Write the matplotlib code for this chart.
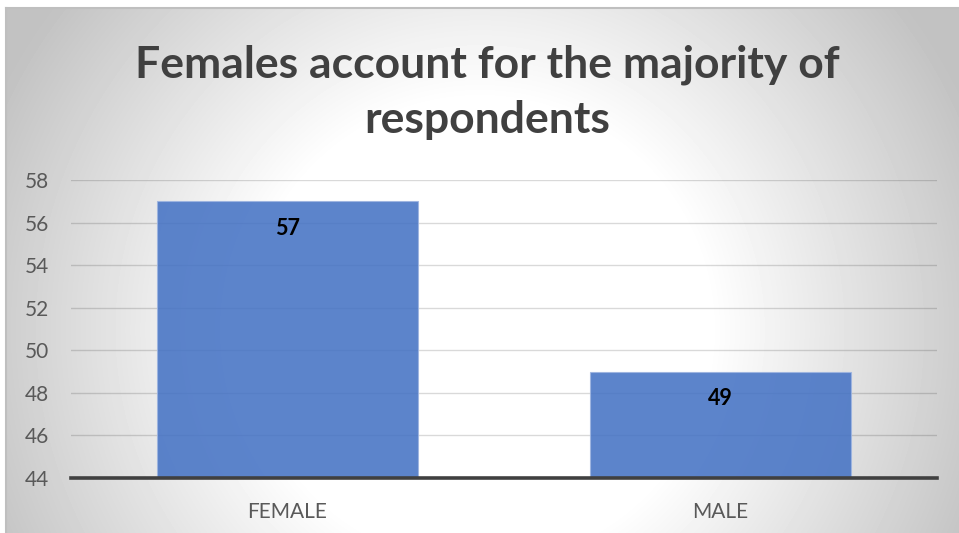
import numpy as np
import matplotlib.pyplot as plt

categories = ['FEMALE', 'MALE']
counts = [57, 49]
y_ticks = [44, 46, 48, 50, 52, 54, 56, 58]
title = 'Females account for the majority of\nrespondents'

W, H = 959, 533
plt.rcParams['font.family'] = ['Lato', 'DejaVu Sans']
fig = plt.figure(figsize=(W / 100, H / 100), dpi=100)

# grey radial gradient behind the chart area
x0, y0 = 6, 8
X, Y = np.meshgrid(np.arange(x0, W) + 0.5, np.arange(y0, H) + 0.5)
r = np.hypot(X - 480, Y - 330)
shade = np.clip(255 - 0.2 * (r - 230), 194, 255) / 255

bg = fig.add_axes([x0 / W, 0, (W - x0) / W, (H - y0) / H], zorder=0)
bg.imshow(shade, cmap='gray', vmin=0, vmax=1, aspect='auto', interpolation='bilinear')
bg.set_xticks([])
bg.set_yticks([])
for side in ['right', 'bottom']:
    bg.spines[side].set_visible(False)
for side in ['top', 'left']:
    bg.spines[side].set_color('#bfbfbf')
    bg.spines[side].set_linewidth(1.5)

ax = fig.add_axes([71 / W, 55 / H, 866 / W, 298 / H], zorder=1)
ax.patch.set_alpha(0)
x = np.arange(len(categories))
bars = ax.bar(x, counts, width=0.603, color='#4472c4', alpha=0.87,
              edgecolor='#9db4e0', linewidth=0.8, zorder=2)
ax.set_xlim(-0.5, 1.5)
ax.set_ylim(44, 58)
ax.set_yticks(y_ticks)
ax.set_xticks(x)
ax.set_xticklabels(categories)
ax.yaxis.grid(True, color='black', alpha=0.15, linewidth=1.0)
ax.set_axisbelow(True)
for side in ['top', 'left', 'right']:
    ax.spines[side].set_visible(False)
ax.spines['bottom'].set_color('#404040')
ax.spines['bottom'].set_linewidth(2.6)
ax.spines['bottom'].set_zorder(3)
ax.tick_params(axis='y', length=0, labelsize=15, labelcolor='#595959', pad=16)
ax.tick_params(axis='x', length=0, labelsize=15, labelcolor='#595959', pad=17)

for xi, v in zip(x, counts):
    ax.annotate(str(v), (xi, v), xytext=(0, -19.5), textcoords='offset points',
                ha='center', va='center', fontsize=15.5, fontweight='bold', color='black')

fig.text(487 / W, 1 - 92 / H, title, ha='center', va='center', fontsize=32,
         fontweight='bold', color='#404040', linespacing=1.45)

fig.savefig('out.png', dpi=100)
